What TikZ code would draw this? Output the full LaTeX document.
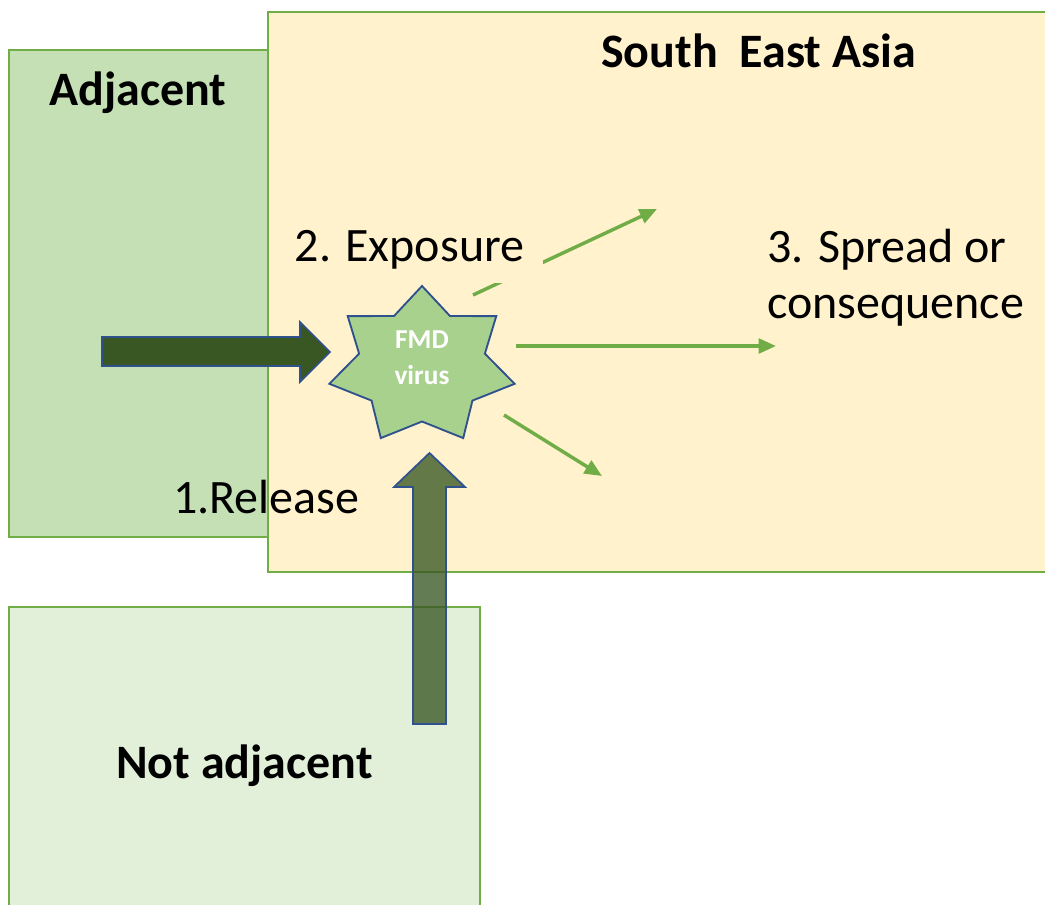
\documentclass[tikz,border=0pt]{standalone}
\usepackage{fontspec}
\setmainfont{Carlito}
\usetikzlibrary{arrows.meta}

\definecolor{seafill}{HTML}{FFF2CC}
\definecolor{adjfill}{HTML}{C5E0B4}
\definecolor{farfill}{HTML}{E2F0D9}
\definecolor{boxgreen}{HTML}{70AD47}
\definecolor{edgeblue}{HTML}{2F528F}
\definecolor{deepgreen}{HTML}{385723}
\definecolor{virusgreen}{HTML}{A9D18E}

\begin{document}
\begin{tikzpicture}[x=0.75pt,y=-0.75pt,
  regionbox/.style={draw=boxgreen, line width=1.9pt},
  blockarrow/.style={draw=edgeblue, line width=1.3pt, line join=miter},
  spread/.style={draw=boxgreen, line width=2.6pt,
    -{Triangle[length=13pt,width=11pt]}},
  txt/.style={inner sep=0pt, anchor=base west,
    font=\fontsize{36}{42}\selectfont},
  boldtxt/.style={txt, font=\fontsize{36}{42}\selectfont\bfseries},
  virustext/.style={inner sep=0pt, align=center, text=white,
    font=\fontsize{20.5}{27}\selectfont\bfseries}]

\useasboundingbox (0,0) rectangle (1045,904);

% regions
\draw[regionbox, fill=adjfill] (9,50) rectangle (268,537);
\draw[regionbox, fill=seafill] (268,12) rectangle (1060,572);
\draw[regionbox, fill=farfill] (9,607) rectangle (480,915);

% release pathway from the adjacent region
\draw[blockarrow, fill=deepgreen]
  (102,337) -- (300,337) -- (300,322) -- (330,352) -- (300,382)
  -- (300,366) -- (102,366) -- cycle;

% release pathway from the non-adjacent region
\draw[blockarrow, fill=deepgreen, fill opacity=0.78]
  (413,724) -- (413,487) -- (394,487) -- (429.5,453) -- (465,487)
  -- (446,487) -- (446,724) -- cycle;

% seven-pointed virus star
\draw[draw=edgeblue, line width=1.4pt, fill=virusgreen, line join=miter]
  plot[samples at={0,...,13}, variable=\k]
  ({422+(64.5+30.5*(1-mod(\k,2)))*cos(90+\k*180/7)},
   {366-(55.5+24.5*(1-mod(\k,2)))*sin(90+\k*180/7)}) -- cycle;
\node[virustext] (virus) at (422,358) {FMD\\virus};

% onward spread
\coordinate (upA) at (473,295);  \coordinate (upB) at (657,209);
\coordinate (midA) at (516,346); \coordinate (midB) at (776,346);
\coordinate (lowA) at (504,415); \coordinate (lowB) at (602,476);
\draw[spread] (upA) -- (upB);
\draw[spread] (midA) -- (midB);
\draw[spread] (lowA) -- (lowB);

% labels
\node[txt, anchor=base, fill=seafill, inner xsep=14pt, inner ysep=0pt,
  text height=30pt, text depth=16.5pt] (exposure) at (409.5,261) {2. Exposure};
\node[boldtxt] (sea) at (601,67) {South\ \ East Asia};
\node[boldtxt] (adj) at (49,105) {Adjacent};
\node[boldtxt] (notadj) at (116,778) {Not adjacent};
\node[txt] (release) at (173,513) {1.Release};
% a multi-line node sits on the baseline of its last line
\node[txt, align=left] (spreadlbl) at (767,318) {3. Spread or\\consequence};

\end{tikzpicture}
\end{document}
